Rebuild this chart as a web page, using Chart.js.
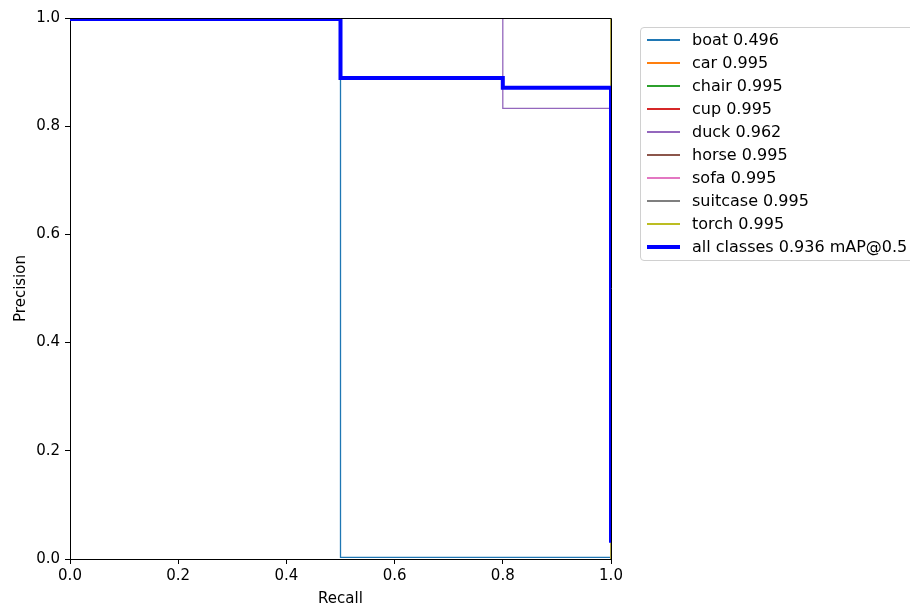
<!DOCTYPE html>
<html>
<head>
<meta charset="utf-8">
<script src="https://cdn.jsdelivr.net/npm/chart.js@4.4.1/dist/chart.umd.min.js"></script>
<style>
  html, body { margin: 0; padding: 0; background: #fff; }
  #wrap { position: relative; width: 910px; height: 606px; overflow: hidden; font-family: 'DejaVu Sans', sans-serif; }
  #legend {
    position: absolute; left: 640px; top: 27px; width: 290px; height: 234px;
    border: 1px solid #d0d0d0; border-radius: 4px; background: rgba(255,255,255,0.8);
    box-sizing: border-box;
  }
  .row { position: absolute; left: 0; height: 20px; line-height: 20px; font-size: 16px; color: #000; white-space: nowrap; }
  .row .swatch { position: absolute; left: 6px; top: 10px; width: 33px; }
  .row span { position: absolute; left: 51px; top: 0; }
</style>
</head>
<body>
<div id="wrap">
  <canvas id="pr" width="910" height="608"></canvas>
  <div id="legend"></div>
</div>
<script>
// --- PR curve data ---
const classNames = ['boat', 'car', 'chair', 'cup', 'duck', 'horse', 'sofa', 'suitcase', 'torch'];
const classAP = [0.496, 0.995, 0.995, 0.995, 0.962, 0.995, 0.995, 0.995, 0.995];
const classColors = ['#1f77b4', '#ff7f0e', '#2ca02c', '#d62728', '#9467bd', '#8c564b', '#e377c2', '#7f7f7f', '#bcbd22'];

// recall / precision breakpoints per class
const fullRecall = [0, 1, 1];
const fullPrecision = [1, 1, 0];
const boatRecall = [0, 0.5, 0.5, 1, 1];
const boatPrecision = [1, 1, 0.003, 0.003, 0];
const duckRecall = [0, 0.8, 0.8, 1, 1];
const duckPrecision = [1, 1, 0.833, 0.833, 0];

const allRecall = [0, 0.5, 0.5, 0.8, 0.8, 1, 1];
const allPrecision = [0.998, 0.998, 0.889, 0.889, 0.871, 0.871, 0.03];
const allMAP = 0.936;

const axisTicks = [0, 0.2, 0.4, 0.6, 0.8, 1.0];

const curves = {
  boat: [boatRecall, boatPrecision],
  duck: [duckRecall, duckPrecision]
};

function toPoints(rec, prec) {
  return rec.map((r, i) => ({ x: r, y: prec[i] }));
}

const datasets = classNames.map((name, i) => {
  const c = curves[name] || [fullRecall, fullPrecision];
  return {
    label: name + ' ' + classAP[i].toFixed(3),
    data: toPoints(c[0], c[1]),
    borderColor: classColors[i],
    borderWidth: 1.3,
    pointRadius: 0,
    tension: 0,
    order: 20 - i
  };
});
datasets.push({
  label: 'all classes ' + allMAP.toFixed(3) + ' mAP@0.5',
  data: toPoints(allRecall, allPrecision),
  borderColor: '#0000ff',
  borderWidth: 4,
  pointRadius: 0,
  tension: 0,
  order: 0
});

// box around the axes (top and right spines)
const spines = {
  id: 'spines',
  afterDraw(chart) {
    const { ctx, chartArea: a } = chart;
    ctx.save();
    ctx.strokeStyle = '#000';
    ctx.lineWidth = 1;
    ctx.beginPath();
    ctx.moveTo(a.left, a.top + 0.5);
    ctx.lineTo(a.right + 0.5, a.top + 0.5);
    ctx.lineTo(a.right + 0.5, a.bottom);
    ctx.stroke();
    ctx.restore();
  }
};

const tickFont = { family: 'DejaVu Sans', size: 15 };

new Chart(document.getElementById('pr').getContext('2d'), {
  type: 'line',
  data: { datasets },
  plugins: [spines],
  options: {
    responsive: false,
    animation: false,
    layout: { padding: { top: 18, right: 299, left: 0, bottom: 0 } },
    plugins: { legend: { display: false }, tooltip: { enabled: false } },
    scales: {
      x: {
        type: 'linear', min: 0, max: 1,
        afterBuildTicks: s => { s.ticks = axisTicks.map(v => ({ value: v })); },
        afterFit: s => { s.height = 49; },
        ticks: { color: '#000', font: tickFont, padding: 3, maxRotation: 0, callback: v => v.toFixed(1) },
        grid: { drawOnChartArea: false, drawTicks: true, tickLength: 5, color: '#000' },
        border: { display: true, color: '#000', width: 1 },
        title: { display: true, text: 'Recall', color: '#000', font: tickFont, padding: { top: 0, bottom: 0 } }
      },
      y: {
        type: 'linear', min: 0, max: 1,
        afterBuildTicks: s => { s.ticks = axisTicks.map(v => ({ value: v })); },
        afterFit: s => { s.width = 70; },
        ticks: { color: '#000', font: tickFont, padding: 5, callback: v => v.toFixed(1) },
        grid: { drawOnChartArea: false, drawTicks: true, tickLength: 5, color: '#000' },
        border: { display: true, color: '#000', width: 1 },
        title: { display: true, text: 'Precision', color: '#000', font: tickFont, padding: { top: 12, bottom: 0 } }
      }
    }
  }
});

// legend built from the same series
const legend = document.getElementById('legend');
datasets.forEach((d, i) => {
  const row = document.createElement('div');
  row.className = 'row';
  row.style.top = (2 + i * 23) + 'px';
  const sw = document.createElement('div');
  sw.className = 'swatch';
  const w = d.borderWidth === 4 ? 4 : 2;
  sw.style.borderTop = w + 'px solid ' + d.borderColor;
  sw.style.marginTop = (-w / 2) + 'px';
  const tx = document.createElement('span');
  tx.textContent = d.label;
  row.appendChild(sw);
  row.appendChild(tx);
  legend.appendChild(row);
});
</script>
</body>
</html>
